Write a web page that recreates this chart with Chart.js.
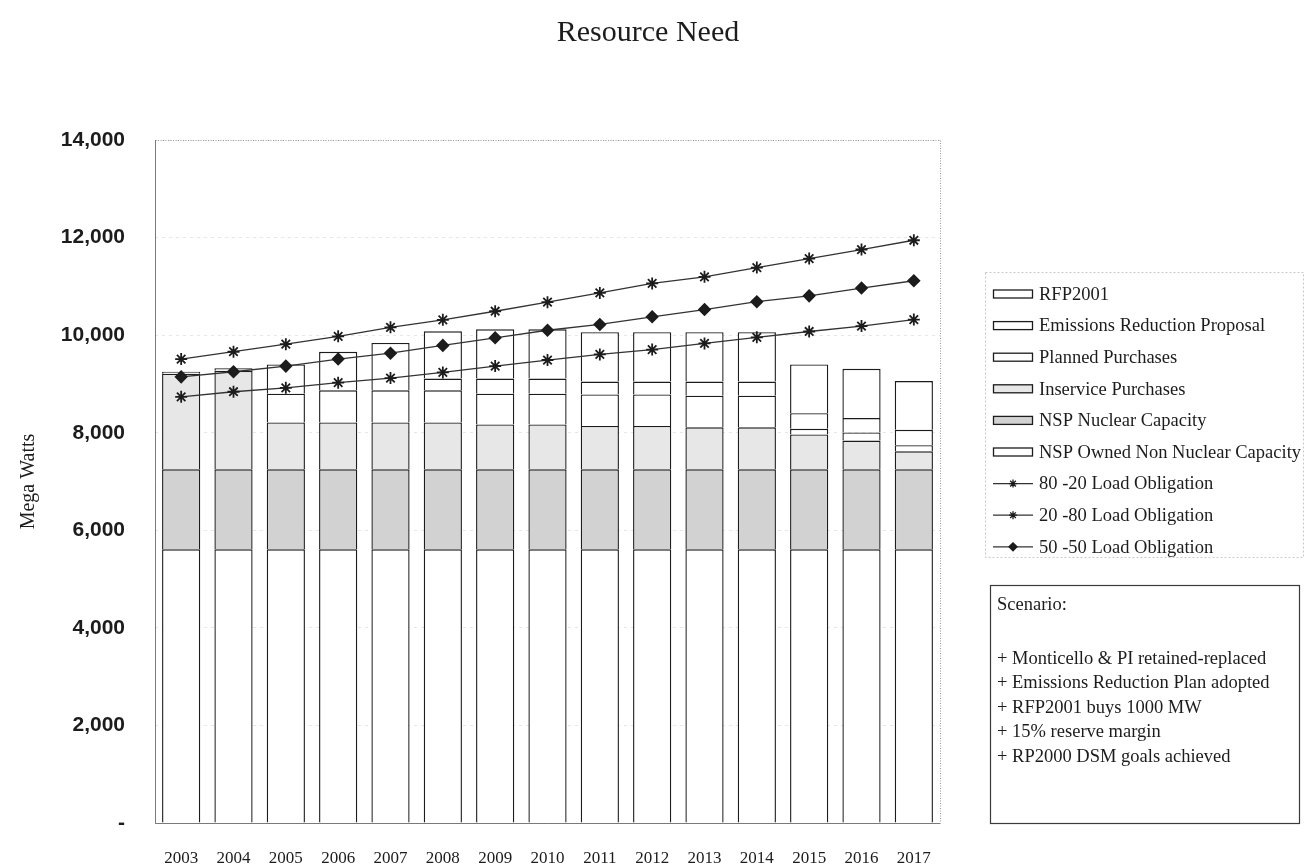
<!DOCTYPE html>
<html>
<head>
<meta charset="utf-8">
<script src="https://cdn.jsdelivr.net/npm/chart.js@4.4.0/dist/chart.umd.min.js"></script>
<style>
  html, body { margin: 0; padding: 0; background: #fff; }
  #wrap { width: 1315px; height: 867px; position: relative; }
</style>
</head>
<body>
<div id="wrap"><canvas id="chart" width="1315" height="867"></canvas></div>
<script>
// Years on the x axis
const years = ['2003', '2004', '2005', '2006', '2007', '2008', '2009', '2010',
  '2011', '2012', '2013', '2014', '2015', '2016', '2017'];

// Stacked capacity segments (MW), bottom to top
const ownedNonNuclear = [5610, 5610, 5610, 5610, 5610, 5610, 5610, 5610, 5610, 5610, 5610, 5610, 5610, 5610, 5610];
const nuclearCapacity = [1640, 1640, 1640, 1640, 1640, 1640, 1640, 1640, 1640, 1640, 1640, 1640, 1640, 1640, 1640];
const inservicePurchases = [1960, 2020, 960, 960, 960, 960, 920, 920, 890, 890, 860, 860, 715, 590, 370];
const plannedPurchases = [40, 50, 590, 660, 660, 660, 630, 630, 645, 645, 650, 650, 115, 165, 125];
const emissionsReduction = [null, null, null, null, null, 240, 310, 310, 265, 265, 290, 290, 320, 295, 315];
const rfp2001 = [null, null, 600, 790, 970, 970, 1010, 1010, 1010, 1010, 1010, 1010, 1000, 1010, 1000];

// Load obligation lines (MW)
const load8020 = [9510, 9660, 9815, 9975, 10160, 10315, 10490, 10675, 10865, 11060, 11195, 11385, 11570, 11755, 11945];
const load2080 = [8735, 8840, 8920, 9025, 9120, 9235, 9365, 9490, 9605, 9705, 9830, 9955, 10075, 10185, 10320];
const load5050 = [9145, 9250, 9365, 9510, 9630, 9790, 9945, 10100, 10220, 10375, 10525, 10685, 10805, 10965, 11115];

// Text in the scenario box
const scenarioLines = [
  'Scenario:',
  '',
  '+ Monticello & PI retained-replaced',
  '+ Emissions Reduction Plan adopted',
  '+ RFP2001 buys 1000 MW',
  '+ 15% reserve margin',
  '+ RP2000 DSM goals achieved'
];

const SERIF = "'Liberation Serif', 'DejaVu Serif', serif";
const INK = '#1c1c1c';

function barSet(label, data, fill) {
  return {
    type: 'bar', label: label, data: data, stack: 'cap', order: 2,
    backgroundColor: fill, borderColor: INK, borderWidth: 1.4,
    barPercentage: 0.73, categoryPercentage: 1.0
  };
}

function lineSet(label, data, style, stackId) {
  return {
    type: 'line', label: label, data: data, stack: stackId, order: 0,
    borderColor: '#333', borderWidth: 1.3, tension: 0,
    pointStyle: style, pointRadius: style === 'rectRot' ? 5.5 : 6,
    pointBorderColor: INK, pointBackgroundColor: INK, pointBorderWidth: 1.8
  };
}

// Plot frame
const framePlugin = {
  id: 'frame',
  beforeDatasetsDraw(chart) {
    const { ctx, chartArea: a } = chart;
    ctx.save();
    ctx.strokeStyle = '#9a9a9a';
    ctx.lineWidth = 1;
    ctx.setLineDash([1, 1.5]);
    ctx.strokeRect(a.left + 0.5, a.top + 0.5, a.right - a.left, a.bottom - a.top);
    ctx.setLineDash([]);
    ctx.strokeStyle = '#7a7a7a';
    ctx.beginPath();
    ctx.moveTo(a.left + 0.5, a.top);
    ctx.lineTo(a.left + 0.5, a.bottom + 0.5);
    ctx.lineTo(a.right, a.bottom + 0.5);
    ctx.stroke();
    ctx.restore();
  }
};

// Title, legend box and scenario box
const sideBoxes = {
  id: 'sideBoxes',
  afterDraw(chart) {
    const { ctx } = chart;
    const ds = chart.data.datasets;
    const order = [5, 4, 3, 2, 1, 0, 6, 7, 8];
    ctx.save();
    // title, centred on the page
    ctx.font = '30px ' + SERIF;
    ctx.fillStyle = INK;
    ctx.textAlign = 'center';
    ctx.textBaseline = 'middle';
    ctx.fillText('Resource Need', 648, 33);
    ctx.textAlign = 'left';

    // legend frame
    ctx.strokeStyle = '#c8c8c8';
    ctx.lineWidth = 1;
    ctx.setLineDash([2, 2]);
    ctx.strokeRect(985.5, 272.5, 318, 285);
    ctx.setLineDash([]);
    ctx.font = '18.5px ' + SERIF;
    order.forEach((idx, i) => {
      const d = ds[idx];
      const y = 294 + i * 31.6;
      if (d.type === 'bar') {
        ctx.fillStyle = d.backgroundColor;
        ctx.fillRect(993, y - 4, 40, 8);
        ctx.strokeStyle = INK;
        ctx.lineWidth = 1.3;
        ctx.strokeRect(993.5, y - 4, 39, 8);
      } else {
        ctx.strokeStyle = '#333';
        ctx.lineWidth = 1.3;
        ctx.beginPath();
        ctx.moveTo(993, y);
        ctx.lineTo(1033, y);
        ctx.stroke();
        ctx.fillStyle = INK;
        ctx.strokeStyle = INK;
        Chart.helpers.drawPoint(ctx, {
          pointStyle: d.pointStyle, radius: 4, borderWidth: 1.4
        }, 1013, y);
      }
      ctx.fillStyle = INK;
      ctx.fillText(d.label, 1039, y + 1);
    });

    // scenario box
    ctx.strokeStyle = '#3a3a3a';
    ctx.lineWidth = 1.2;
    ctx.strokeRect(990.5, 585.5, 309, 238);
    ctx.font = '18.5px ' + SERIF;
    ctx.fillStyle = INK;
    scenarioLines.forEach((t, i) => {
      const y = i === 0 ? 605 : 610 + i * 24.5;
      if (t) ctx.fillText(t, 997, y);
    });
    ctx.restore();
  }
};

new Chart(document.getElementById('chart'), {
  data: {
    labels: years,
    datasets: [
      barSet('NSP Owned Non Nuclear Capacity', ownedNonNuclear, '#ffffff'),
      barSet('NSP Nuclear Capacity', nuclearCapacity, '#d2d2d2'),
      barSet('Inservice Purchases', inservicePurchases, '#e7e7e7'),
      barSet('Planned Purchases', plannedPurchases, '#ffffff'),
      barSet('Emissions Reduction Proposal', emissionsReduction, '#ffffff'),
      barSet('RFP2001', rfp2001, '#ffffff'),
      lineSet('80 -20 Load Obligation', load8020, 'star', 'l8020'),
      lineSet('20 -80 Load Obligation', load2080, 'star', 'l2080'),
      lineSet('50 -50 Load Obligation', load5050, 'rectRot', 'l5050')
    ]
  },
  options: {
    responsive: false,
    animation: false,
    layout: { padding: { left: 0, right: 375, top: 140, bottom: 0 } },
    plugins: {
      legend: { display: false },
      tooltip: { enabled: false },
      title: { display: false }
    },
    scales: {
      x: {
        stacked: true,
        afterFit(scale) { scale.height = 44; },
        grid: { display: false, drawTicks: false },
        border: { display: false },
        ticks: {
          color: INK, padding: 25, maxRotation: 0, autoSkip: false,
          font: { family: SERIF, size: 17 }
        }
      },
      y: {
        stacked: true,
        min: 0, max: 14000,
        afterFit(scale) { scale.width = 155; },
        grid: { color: '#e6e6e6', drawTicks: false, lineWidth: 1 },
        border: { display: false, dash: [3, 4] },
        title: {
          display: true, text: 'Mega Watts', color: INK,
          font: { family: SERIF, size: 20 },
          padding: { top: 17, bottom: 0 }
        },
        ticks: {
          stepSize: 2000, padding: 30, color: INK,
          font: { family: "'Liberation Sans', Arial, sans-serif", size: 21, weight: 'bold' },
          callback: v => v === 0 ? '-' : v.toLocaleString('en-US')
        }
      }
    }
  },
  plugins: [framePlugin, sideBoxes]
});
</script>
</body>
</html>
